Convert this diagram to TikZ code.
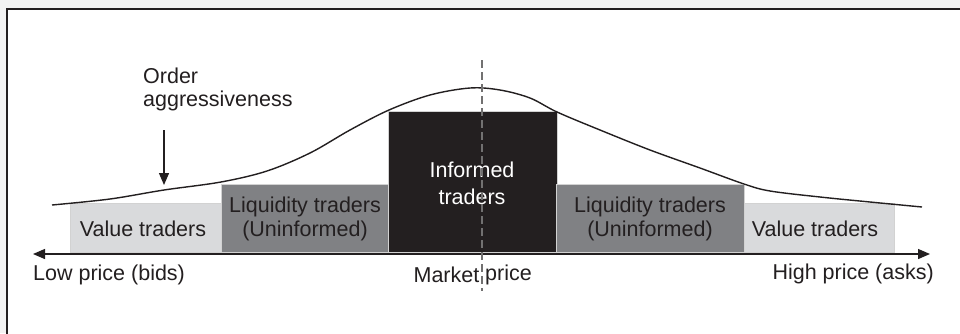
\documentclass[tikz,border=0pt]{standalone}
\usepackage{fontspec}
\setmainfont{Liberation Sans}
\usetikzlibrary{arrows.meta}
\definecolor{ink}{HTML}{231F20}
\definecolor{lightbox}{HTML}{D9DADC}
\definecolor{midbox}{HTML}{808184}
\definecolor{outside}{HTML}{F3F3F3}
\tikzset{
  box/.style={draw=gray!35, line width=0.8pt},
  lbl/.style={font=\fontsize{21.5}{24}\selectfont, text=ink, align=center, inner sep=0pt},
  axis/.style={draw=ink, line width=1.3pt},
  tip/.style={-{Triangle[length=12pt,width=10pt]}}
}
\begin{document}
\begin{tikzpicture}[x=1pt,y=-1pt]
\useasboundingbox (0,0) rectangle (960,333);
\fill[outside] (0,0) rectangle (960,333);
\fill[white] (7,9) rectangle (961,334);
\draw[ink, line width=2.2pt] (7,334) -- (7,9) -- (961,9);
% boxes
\node[box, fill=lightbox, minimum width=151pt, minimum height=49pt, anchor=south west] (vl) at (70,253) {};
\node[box, fill=midbox, minimum width=168pt, minimum height=68pt, anchor=south west] (ll) at (221,253) {};
\node[box, fill=ink, minimum width=169pt, minimum height=141pt, anchor=south west] (inf) at (388,253) {};
\node[box, fill=midbox, minimum width=188pt, minimum height=68pt, anchor=south west] (lr) at (556,253) {};
\node[box, fill=lightbox, minimum width=150pt, minimum height=49pt, anchor=south west] (vr) at (744,253) {};
% labels in boxes
\node[lbl] (tvl) at (143,229) {Value traders};
\node[lbl] (tll) at (305,219) {Liquidity traders\\(Uninformed)};
\node[lbl, text=white, font=\fontsize{21.5}{27}\selectfont] (tinf) at (472,183) {Informed\\traders};
\node[lbl] (tlr) at (650,219) {Liquidity traders\\(Uninformed)};
\node[lbl] (tvr) at (815,229) {Value traders};
% axis
\coordinate (al) at (33,254);
\coordinate (ar) at (930,254);
\draw[axis, tip] (482,254) -- (ar);
\draw[axis, tip] (482,254) -- (al);
% curve
\draw[ink, line width=1.4pt] plot[smooth, tension=0.55] coordinates {
 (52,205) (110,199) (164,190) (221,182) (267,171) (310,153) (350,130) (389,110)
 (430,95) (470,88) (500,90) (530,98) (557,112) (600,130) (650,150) (700,168)
 (744,184) (770,191) (820,197) (870,202) (922,207)};
% dashed market line
\coordinate (dt) at (482,60);
\coordinate (db) at (482,291);
\draw[gray!85!ink, line width=1.6pt, dash pattern=on 8pt off 4pt] (dt) -- (db);
% axis labels
\node[lbl, anchor=west] (lowp) at (33,275) {Low price (bids)};
\node[lbl, anchor=east] (highp) at (934,274) {High price (asks)};
\node[lbl, anchor=east] (mk) at (479.5,275) {Market};
\node[lbl, anchor=west] (pr) at (485,275) {price};
% order aggressiveness
\node[lbl, align=left, anchor=west, font=\fontsize{21.5}{23}\selectfont] (oa) at (143,89) {Order\\aggressiveness};
\coordinate (oat) at (164,130);
\coordinate (oab) at (164,185);
\draw[ink, line width=1.3pt, tip] (oat) -- (oab);
\end{tikzpicture}
\end{document}
